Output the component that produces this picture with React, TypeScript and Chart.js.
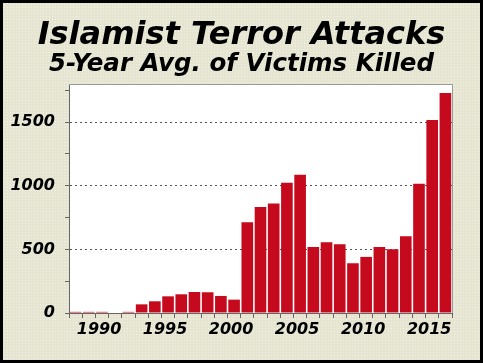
import React, { useEffect, useRef } from "react";
import { Chart, registerables } from "chart.js";

Chart.register(...registerables);

const years: string[] = [
  "1988", "1989", "1990", "1991", "1992", "1993", "1994", "1995", "1996", "1997",
  "1998", "1999", "2000", "2001", "2002", "2003", "2004", "2005", "2006", "2007",
  "2008", "2009", "2010", "2011", "2012", "2013", "2014", "2015", "2016",
];

const victimsKilled: number[] = [
  9, 9, 9, 4, 9, 68, 92, 131, 147, 165,
  163, 134, 105, 714, 834, 860, 1023, 1086, 519, 556,
  541, 391, 441, 519, 501, 603, 1015, 1518, 1729,
];

const yTickValues: number[] = [0, 250, 500, 750, 1000, 1250, 1500, 1750];
const yLabelTicks: number[] = [0, 500, 1000, 1500];

const titleText = "Islamist Terror Attacks";
const subtitleText = "5-Year Avg. of Victims Killed";

const FONT = "'DejaVu Sans', Verdana, sans-serif";

const plotFrame = {
  id: "plotFrame",
  beforeDraw(chart: any) {
    const { ctx, chartArea } = chart;
    ctx.save();
    ctx.fillStyle = "#ffffff";
    ctx.fillRect(chartArea.left, chartArea.top, chartArea.right - chartArea.left, chartArea.bottom - chartArea.top);
    ctx.restore();
  },
  afterDraw(chart: any) {
    const { ctx, chartArea } = chart;
    ctx.save();
    ctx.strokeStyle = "#9a9a9a";
    ctx.lineWidth = 1;
    ctx.beginPath();
    ctx.moveTo(chartArea.left, chartArea.top + 0.5);
    ctx.lineTo(chartArea.right + 0.5, chartArea.top + 0.5);
    ctx.lineTo(chartArea.right + 0.5, chartArea.bottom);
    ctx.stroke();
    ctx.restore();
  },
};

export default function App() {
  const canvasRef = useRef<HTMLCanvasElement | null>(null);

  useEffect(() => {
    document.body.style.margin = "0";
    const canvas = canvasRef.current;
    if (!canvas) return;
    const chart = new Chart(canvas, {
      type: "bar",
      data: {
        labels: years,
        datasets: [
          {
            label: "Victims killed (5-year avg.)",
            data: victimsKilled,
            backgroundColor: "#c50a1d",
            borderWidth: 0,
            barPercentage: 0.88,
            categoryPercentage: 1,
          },
        ],
      },
      options: {
        animation: false,
        responsive: false,
        layout: { padding: 0 },
        plugins: {
          legend: { display: false },
          tooltip: { enabled: false },
          title: {
            display: true,
            text: titleText,
            color: "#000",
            font: { family: FONT, size: 32, weight: "bold", style: "italic", lineHeight: 1.0 },
            padding: { top: 17, bottom: 0 },
          },
          subtitle: {
            display: true,
            text: subtitleText,
            color: "#000",
            font: { family: FONT, size: 24.5, weight: "bold", style: "italic", lineHeight: 1.0 },
            padding: { top: 0, bottom: 7.5 },
          },
        },
        scales: {
          x: {
            type: "category",
            grid: {
              display: true,
              offset: true,
              drawOnChartArea: false,
              drawTicks: true,
              tickLength: 5,
              tickColor: "#666",
              color: "#666",
            },
            border: { display: true, color: "#666" },
            ticks: {
              autoSkip: false,
              maxRotation: 0,
              minRotation: 0,
              padding: 2,
              labelOffset: -3,
              color: "#000",
              font: { family: FONT, size: 16, weight: "bold", style: "italic" },
              callback: (_v: any, i: number) => {
                const y = parseInt(years[i], 10);
                return y % 5 === 0 ? years[i] : "";
              },
            },
            afterFit: (scale: any) => {
              scale.height = 47;
            },
          },
          y: {
            type: "linear",
            min: 0,
            max: 1800,
            afterBuildTicks: (scale: any) => {
              scale.ticks = yTickValues.map((v) => ({ value: v }));
            },
            grid: {
              display: true,
              drawTicks: true,
              tickLength: 4,
              color: (c: any) => {
                const v = c.tick ? c.tick.value : 0;
                return v !== 0 && yLabelTicks.includes(v) ? "#555" : "rgba(0,0,0,0)";
              },
              tickColor: "#666",
            },
            border: { display: true, color: "#666", dash: [2, 3] },
            ticks: {
              autoSkip: false,
              padding: 10,
              color: "#000",
              font: { family: FONT, size: 16, weight: "bold", style: "italic" },
              callback: (v: any) => (yLabelTicks.includes(Number(v)) ? String(v) : ""),
            },
            afterFit: (scale: any) => {
              scale.width = 66;
            },
          },
          ySpacer: {
            type: "linear",
            position: "right",
            display: true,
            min: 0,
            max: 1800,
            grid: { display: false, drawTicks: false },
            border: { display: false },
            ticks: { display: false },
            afterFit: (scale: any) => {
              scale.width = 28;
            },
          },
        },
      },
      plugins: [plotFrame],
    });
    return () => chart.destroy();
  }, []);

  return (
    <div
      style={{
        position: "fixed",
        left: 0,
        top: 0,
        width: 483,
        height: 363,
        boxSizing: "border-box",
        border: "3px solid #000",
        backgroundColor: "#e6e5d2",
        backgroundImage: "radial-gradient(rgba(255,255,255,0.45) 0.6px, transparent 0.9px)",
        backgroundSize: "3px 3px",
      }}
    >
      <canvas ref={canvasRef} width={477} height={357} style={{ display: "block" }} />
    </div>
  );
}
